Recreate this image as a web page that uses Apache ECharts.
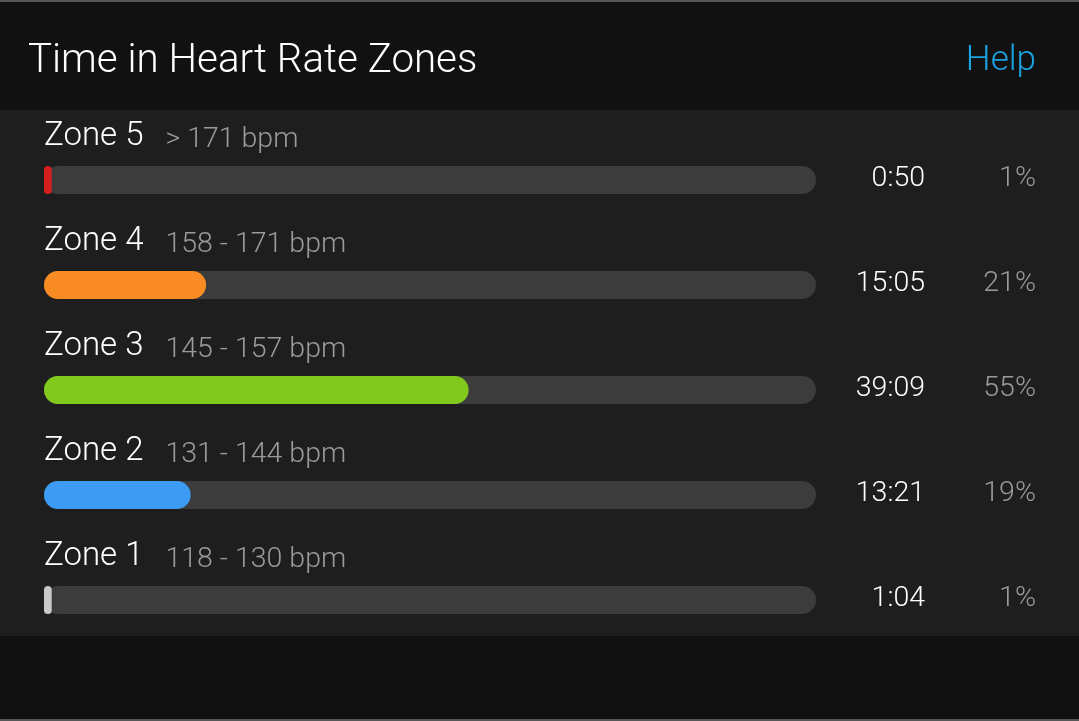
<!DOCTYPE html>
<html><head><meta charset="utf-8">
<script src="https://cdn.jsdelivr.net/npm/echarts@6/dist/echarts.min.js"></script>
<style>html,body{margin:0;padding:0;background:#111;}#c{width:1079px;height:721px;}</style>
</head><body><div id="c"></div>
<script>
const zones = ['Zone 5', 'Zone 4', 'Zone 3', 'Zone 2', 'Zone 1'];
const ranges = ['> 171 bpm', '158 - 171 bpm', '145 - 157 bpm', '131 - 144 bpm', '118 - 130 bpm'];
const times = ['0:50', '15:05', '39:09', '13:21', '1:04'];
const percents = [1, 21, 55, 19, 1];
const zoneColors = ['#d41f1f', '#f98b25', '#82c91e', '#3d9bf3', '#c8c8c8'];

const FONT = 'Roboto';
const chart = echarts.init(document.getElementById('c'), null, {renderer: 'canvas'});
chart.setOption({
  backgroundColor: '#111111',
  animation: false,
  graphic: [
    {type: 'rect', shape: {x: 0, y: 0, width: 1079, height: 2}, style: {fill: '#575757'}, z: -10},
    {type: 'rect', shape: {x: 0, y: 719, width: 1079, height: 2}, style: {fill: '#575757'}, z: -10},
    {type: 'rect', shape: {x: 0, y: 110, width: 1079, height: 526}, style: {fill: '#1e1e1e'}, z: -10}
  ],
  title: [
    {text: 'Time in Heart Rate Zones', left: 23, top: 37,
     textStyle: {color: '#ffffff', fontFamily: FONT, fontWeight: 300, fontSize: 40.3}},
    {text: 'Help', right: 38, top: 39,
     textStyle: {color: '#1ba2e0', fontFamily: FONT, fontWeight: 300, fontSize: 35}}
  ],
  grid: {left: 44, right: 263, top: 127.5, height: 525, containLabel: false},
  xAxis: {type: 'value', min: 0, max: 100, show: false},
  yAxis: [
    {type: 'category', data: zones, inverse: true, show: false},
    {type: 'category', data: zones, inverse: true, position: 'right',
     axisLine: {show: false}, axisTick: {show: false}, splitLine: {show: false},
     axisLabel: {
       margin: 9,
       formatter: function (v, i) { return '{t|' + times[i] + '}{p|' + percents[i] + '%}'; },
       rich: {
         t: {width: 100, align: 'right', color: '#ffffff', fontFamily: FONT, fontWeight: 300, fontSize: 28.5, padding: [0, 0, 3, 0]},
         p: {width: 111, align: 'right', color: '#9a9a9a', fontFamily: FONT, fontWeight: 300, fontSize: 28.5, padding: [0, 0, 3, 0]}
       }
     }}
  ],
  series: [{
    type: 'bar',
    yAxisIndex: 0,
    barWidth: 28,
    data: percents.map((p, i) => ({value: p, itemStyle: {color: zoneColors[i]}})),
    itemStyle: {borderRadius: 14},
    showBackground: true,
    backgroundStyle: {color: '#3c3c3c', borderRadius: 14},
    label: {
      show: true,
      position: [0, -29],
      align: 'left',
      verticalAlign: 'middle',
      formatter: function (p) { return '{z|' + zones[p.dataIndex] + '}{b|' + ranges[p.dataIndex] + '}'; },
      rich: {
        z: {color: '#ffffff', fontFamily: FONT, fontWeight: 300, fontSize: 33},
        b: {color: '#9a9a9a', fontFamily: FONT, fontWeight: 300, fontSize: 28.5, padding: [6, 0, 0, 22]}
      }
    }
  }]
});
</script></body></html>
